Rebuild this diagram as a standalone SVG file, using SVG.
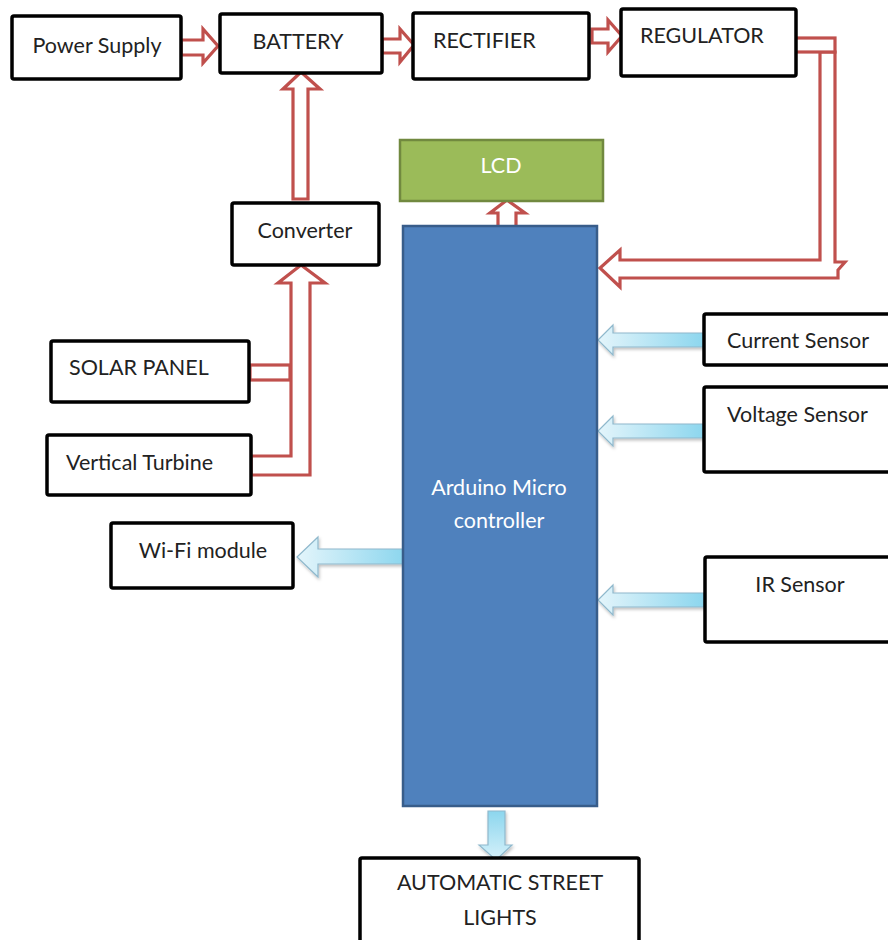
<svg xmlns="http://www.w3.org/2000/svg" width="888" height="940" viewBox="0 0 888 940">
<defs>
<style>
.box{fill:#fff;stroke:#000;stroke-width:3.5;}
.t{font-family:Lato,"Liberation Sans",sans-serif;font-size:21.5px;fill:#222;}
.tc{text-anchor:middle;}
.w{fill:#fff;}
.red{fill:#fff;stroke:#C0504D;stroke-width:3.2;stroke-linejoin:miter;}
.blue{stroke:#8FB8CC;stroke-width:1.2;filter:url(#sh);}
</style>
<linearGradient id="gh" x1="0" y1="0" x2="1" y2="0">
<stop offset="0" stop-color="#E4F5FB"/><stop offset="1" stop-color="#8CD6EE"/>
</linearGradient>
<linearGradient id="gw" x1="1" y1="0" x2="0" y2="0">
<stop offset="0" stop-color="#8CD6EE"/><stop offset="1" stop-color="#E4F5FB"/>
</linearGradient>
<linearGradient id="gv" x1="0" y1="0" x2="0" y2="1">
<stop offset="0" stop-color="#8CD6EE"/><stop offset="1" stop-color="#D6F1FA"/>
</linearGradient>
<filter id="sh" x="-20%" y="-30%" width="140%" height="160%">
<feDropShadow dx="1" dy="2" stdDeviation="1.5" flood-color="#000" flood-opacity="0.25"/>
</filter>
</defs>

<g id="connectors">
<path class="red" d="M181,40 H203 V29 L218,46 L203,63 V55 H181 Z"/>
<path class="red" d="M382,39 H400 V29 L414,45 L400,62 V53 H382 Z"/>
<path class="red" d="M592,29 H608 V20 L622,36 L608,52 V43 H592 Z"/>
<path class="red" d="M820,52 V260 H620 V250 L600,268 L620,287 V278 H838 V270 L845,262 H835 V52 Z"/>
<rect class="red" x="791" y="38" width="44" height="14"/>
<path class="red" d="M293,199 V89 H283 L301,72 L320,89 H308 V199 Z"/>
<path class="red" d="M251,456 H291 V283 H278 L301,265 L325,283 H310 V475 H251 Z"/>
<rect class="red" x="250" y="365" width="40" height="15"/>
<path class="red" d="M498,228 V213 H490 L507,200 L525,213 H516 V228 Z"/>
<path class="blue" fill="url(#gw)" d="M405,549 H318 V537 L297,557 L318,577 V564 H405 Z"/>
<path class="blue" fill="url(#gh)" d="M704,333 H613 V325 L598,340 L613,355 V347 H704 Z"/>
<path class="blue" fill="url(#gh)" d="M704,424 H613 V416 L598,431 L613,446 V438 H704 Z"/>
<path class="blue" fill="url(#gh)" d="M704,593 H613 V585 L598,600 L613,615 V607 H704 Z"/>
<path class="blue" fill="url(#gv)" d="M488,811 H505 V845 H512 L496,860 L479,845 H488 Z"/>
</g>

<g id="power-supply"><rect class="box" x="12" y="16" width="169" height="63" rx="2"/><text class="t tc" x="97" y="53">Power Supply</text></g>
<g id="battery"><rect class="box" x="220" y="14" width="162" height="59" rx="2"/><text class="t tc" x="298" y="49">BATTERY</text></g>
<g id="rectifier"><rect class="box" x="413" y="13" width="176" height="66" rx="2"/><text class="t" x="433" y="48">RECTIFIER</text></g>
<g id="regulator"><rect class="box" x="621" y="9" width="175" height="67" rx="2"/><text class="t" x="640" y="43">REGULATOR</text></g>
<g id="lcd"><rect x="400" y="140" width="203" height="61" fill="#9BBB59" stroke="#71893F" stroke-width="2.5"/><text class="t tc w" x="501" y="173" style="fill:#fff">LCD</text></g>
<g id="arduino"><rect x="403" y="226" width="194" height="580" fill="#4F81BD" stroke="#385D8A" stroke-width="2.5"/><text class="t tc" x="499" y="495" style="fill:#fff">Arduino Micro</text><text class="t tc" x="499" y="528" style="fill:#fff">controller</text></g>
<g id="converter"><rect class="box" x="232" y="203" width="147" height="62" rx="2"/><text class="t tc" x="305" y="238">Converter</text></g>
<g id="solar-panel"><rect class="box" x="51" y="341" width="198" height="61" rx="2"/><text class="t" x="69" y="375">SOLAR PANEL</text></g>
<g id="vertical-turbine"><rect class="box" x="47" y="435" width="204" height="60" rx="2"/><text class="t" x="66" y="470">Vertical Turbine</text></g>
<g id="wifi-module"><rect class="box" x="111" y="523" width="182" height="65" rx="2"/><text class="t tc" x="203" y="558">Wi-Fi module</text></g>
<g id="current-sensor"><rect class="box" x="704" y="314" width="190" height="51" rx="2"/><text class="t" x="727" y="348">Current Sensor</text></g>
<g id="voltage-sensor"><rect class="box" x="704" y="387" width="190" height="85" rx="2"/><text class="t" x="727" y="422">Voltage Sensor</text></g>
<g id="ir-sensor"><rect class="box" x="705" y="557" width="190" height="85" rx="2"/><text class="t tc" x="800" y="592">IR Sensor</text></g>
<g id="street-lights"><rect class="box" x="360" y="858" width="279" height="90" rx="2"/><text class="t tc" x="500" y="890">AUTOMATIC STREET</text><text class="t tc" x="500" y="925">LIGHTS</text></g>
</svg>
